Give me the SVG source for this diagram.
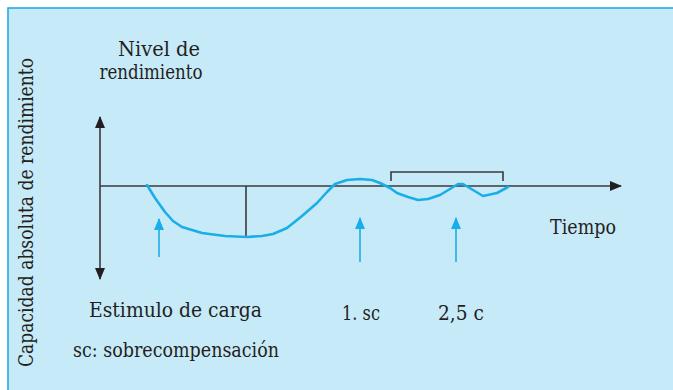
<svg xmlns="http://www.w3.org/2000/svg" width="673" height="390" viewBox="0 0 673 390">
<defs>
<style>
.t{font-family:'DejaVu Serif','Liberation Serif',serif;font-size:20px;fill:#231f20}
.ax{stroke:#3a3a3a;stroke-width:1.6;fill:none}
.bl{stroke:#1aaee8;fill:none}
</style>
<marker id="ah" markerWidth="12" markerHeight="10" refX="11" refY="5" orient="auto" markerUnits="userSpaceOnUse"><path d="M0,0 L12,5 L0,10 Z" fill="#231f20"/></marker>
<marker id="bh" markerWidth="12" markerHeight="10" refX="11" refY="5" orient="auto" markerUnits="userSpaceOnUse"><path d="M0,0 L12,5 L0,10 Z" fill="#1aaee8"/></marker>
</defs>
<rect x="0" y="0" width="673" height="390" fill="#ffffff"/>
<rect x="8" y="8" width="670" height="390" fill="#c7eaf9" stroke="#29abe2" stroke-width="1.6"/>
<g id="labels">
<text class="t" x="159" y="56" text-anchor="middle" font-size="19" textLength="82" lengthAdjust="spacingAndGlyphs">Nivel de</text>
<text class="t" x="151" y="79" text-anchor="middle" font-size="19" textLength="103" lengthAdjust="spacingAndGlyphs">rendimiento</text>
<text class="t" transform="translate(33,212.5) rotate(-90)" text-anchor="middle" textLength="309" lengthAdjust="spacingAndGlyphs">Capacidad absoluta de rendimiento</text>
<text class="t" x="89" y="317" textLength="173" lengthAdjust="spacingAndGlyphs">Estimulo de carga</text>
<text class="t" x="73" y="357" textLength="206" lengthAdjust="spacingAndGlyphs">sc: sobrecompensación</text>
<text class="t" x="342" y="320" textLength="38" lengthAdjust="spacingAndGlyphs">1. sc</text>
<text class="t" x="438" y="320" textLength="46" lengthAdjust="spacingAndGlyphs">2,5 c</text>
<text class="t" x="550" y="234" textLength="66" lengthAdjust="spacingAndGlyphs">Tiempo</text>
</g>
<g id="connectors">
<line class="ax" x1="100" y1="186" x2="100" y2="117" marker-end="url(#ah)"/>
<line class="ax" x1="100" y1="186" x2="100" y2="279" marker-end="url(#ah)"/>
<line class="ax" x1="100" y1="186" x2="621" y2="186" marker-end="url(#ah)"/>
<line class="ax" x1="246" y1="186" x2="246" y2="237"/>
<path class="ax" d="M391,181 V172 H503 V181"/>
<line class="bl" stroke-width="1.6" x1="159" y1="257" x2="159" y2="219" marker-end="url(#bh)"/>
<line class="bl" stroke-width="1.6" x1="360" y1="262" x2="360" y2="218" marker-end="url(#bh)"/>
<line class="bl" stroke-width="1.6" x1="456" y1="262" x2="456" y2="218" marker-end="url(#bh)"/>
<polyline class="bl" stroke-width="2.6" stroke-linejoin="round" stroke-linecap="round" points="147,185 155,198 165,212 173,221 182,227 202,233 225,236 247,237 262,236 273,234 287,228 302,216 317,203 327,192 335,184 347,180 360,179 372,180 380,183 390,188 397,193 408,197 418,200 428,199 440,195 450,189 458,184 463,184 468,187 473,190 483,196 497,193 508,187"/>
</g>
</svg>
